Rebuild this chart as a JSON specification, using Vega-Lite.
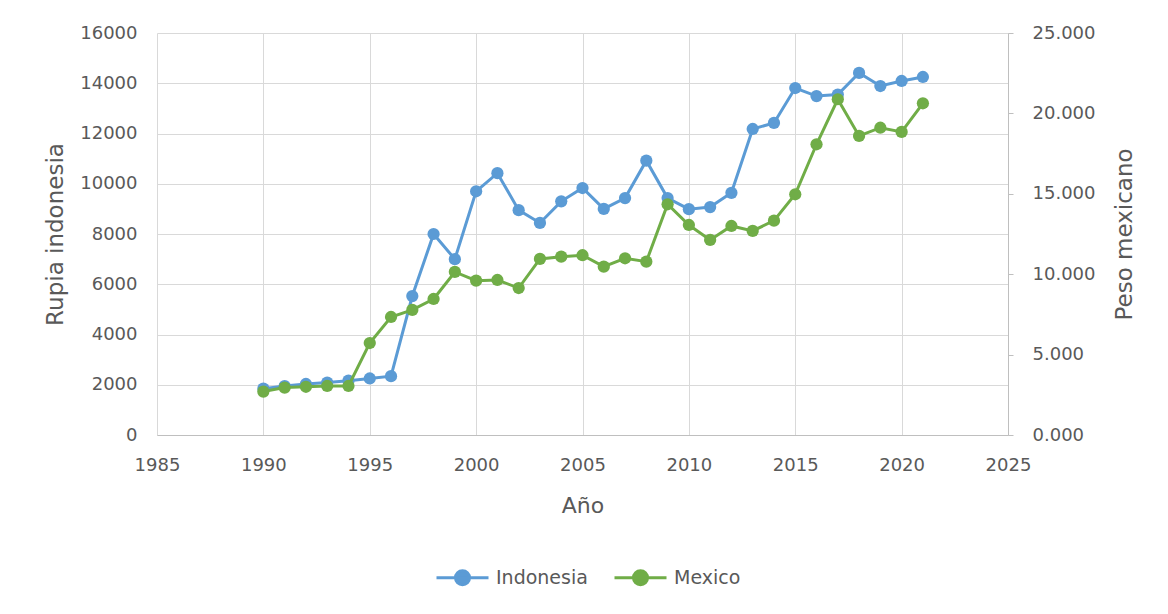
{
  "$schema": "https://vega.github.io/schema/vega-lite/v6.json",
  "width": 851,
  "height": 402,
  "autosize": {"type": "none"},
  "padding": {"left": 157, "top": 33, "right": 160, "bottom": 179},
  "background": "white",
  "config": {
    "font": "DejaVu Sans",
    "view": {"stroke": null},
    "axis": {
      "labelColor": "#595959",
      "titleColor": "#595959",
      "labelFontSize": 18,
      "titleFontSize": 23,
      "titleFontWeight": "normal",
      "labelFlush": false,
      "gridColor": "#D9D9D9",
      "gridWidth": 1,
      "domainColor": "#BFBFBF",
      "tickColor": "#BFBFBF"
    },
    "legend": {"labelColor": "#595959", "labelFontSize": 19}
  },
  "data": {
    "values": [
      {"year": 1990, "series": "Indonesia", "value": 1843},
      {"year": 1991, "series": "Indonesia", "value": 1950},
      {"year": 1992, "series": "Indonesia", "value": 2030},
      {"year": 1993, "series": "Indonesia", "value": 2087},
      {"year": 1994, "series": "Indonesia", "value": 2161},
      {"year": 1995, "series": "Indonesia", "value": 2249},
      {"year": 1996, "series": "Indonesia", "value": 2342},
      {"year": 1997, "series": "Indonesia", "value": 5530},
      {"year": 1998, "series": "Indonesia", "value": 8000},
      {"year": 1999, "series": "Indonesia", "value": 7000},
      {"year": 2000, "series": "Indonesia", "value": 9700},
      {"year": 2001, "series": "Indonesia", "value": 10420},
      {"year": 2002, "series": "Indonesia", "value": 8950},
      {"year": 2003, "series": "Indonesia", "value": 8440},
      {"year": 2004, "series": "Indonesia", "value": 9300},
      {"year": 2005, "series": "Indonesia", "value": 9830},
      {"year": 2006, "series": "Indonesia", "value": 9000},
      {"year": 2007, "series": "Indonesia", "value": 9430},
      {"year": 2008, "series": "Indonesia", "value": 10920},
      {"year": 2009, "series": "Indonesia", "value": 9430},
      {"year": 2010, "series": "Indonesia", "value": 8990},
      {"year": 2011, "series": "Indonesia", "value": 9070},
      {"year": 2012, "series": "Indonesia", "value": 9640},
      {"year": 2013, "series": "Indonesia", "value": 12180},
      {"year": 2014, "series": "Indonesia", "value": 12420},
      {"year": 2015, "series": "Indonesia", "value": 13810},
      {"year": 2016, "series": "Indonesia", "value": 13490},
      {"year": 2017, "series": "Indonesia", "value": 13550},
      {"year": 2018, "series": "Indonesia", "value": 14410},
      {"year": 2019, "series": "Indonesia", "value": 13890},
      {"year": 2020, "series": "Indonesia", "value": 14090},
      {"year": 2021, "series": "Indonesia", "value": 14250},
      {"year": 1990, "series": "Mexico", "value": 2.7},
      {"year": 1991, "series": "Mexico", "value": 2.95},
      {"year": 1992, "series": "Mexico", "value": 3.0},
      {"year": 1993, "series": "Mexico", "value": 3.05},
      {"year": 1994, "series": "Mexico", "value": 3.05},
      {"year": 1995, "series": "Mexico", "value": 5.72},
      {"year": 1996, "series": "Mexico", "value": 7.34},
      {"year": 1997, "series": "Mexico", "value": 7.78},
      {"year": 1998, "series": "Mexico", "value": 8.46},
      {"year": 1999, "series": "Mexico", "value": 10.14},
      {"year": 2000, "series": "Mexico", "value": 9.6},
      {"year": 2001, "series": "Mexico", "value": 9.64},
      {"year": 2002, "series": "Mexico", "value": 9.14},
      {"year": 2003, "series": "Mexico", "value": 10.95},
      {"year": 2004, "series": "Mexico", "value": 11.09},
      {"year": 2005, "series": "Mexico", "value": 11.18},
      {"year": 2006, "series": "Mexico", "value": 10.47},
      {"year": 2007, "series": "Mexico", "value": 10.99},
      {"year": 2008, "series": "Mexico", "value": 10.78},
      {"year": 2009, "series": "Mexico", "value": 14.35},
      {"year": 2010, "series": "Mexico", "value": 13.06},
      {"year": 2011, "series": "Mexico", "value": 12.13},
      {"year": 2012, "series": "Mexico", "value": 13.0},
      {"year": 2013, "series": "Mexico", "value": 12.69},
      {"year": 2014, "series": "Mexico", "value": 13.33},
      {"year": 2015, "series": "Mexico", "value": 14.97},
      {"year": 2016, "series": "Mexico", "value": 18.08},
      {"year": 2017, "series": "Mexico", "value": 20.88},
      {"year": 2018, "series": "Mexico", "value": 18.6},
      {"year": 2019, "series": "Mexico", "value": 19.11},
      {"year": 2020, "series": "Mexico", "value": 18.85},
      {"year": 2021, "series": "Mexico", "value": 20.63}
    ]
  },
  "encoding": {
    "x": {
      "field": "year",
      "type": "quantitative",
      "scale": {"domain": [1985, 2025], "nice": false, "zero": false},
      "axis": {
        "title": "Año",
        "values": [1985, 1990, 1995, 2000, 2005, 2010, 2015, 2020, 2025],
        "format": "d",
        "grid": true,
        "ticks": false,
        "tickSize": 0,
        "domain": true,
        "labelPadding": 21,
        "titlePadding": 21,
        "titleFontSize": 22
      }
    },
    "color": {
      "field": "series",
      "type": "nominal",
      "scale": {"domain": ["Indonesia", "Mexico"], "range": ["#5B9BD5", "#70AD47"]},
      "legend": {
        "title": null,
        "orient": "none",
        "direction": "horizontal",
        "legendX": 278,
        "legendY": 517,
        "symbolType": "M-1,0H1M-0.27,0A0.27,0.27,0,1,0,0.27,0A0.27,0.27,0,1,0,-0.27,0Z",
        "symbolSize": 2704,
        "symbolStrokeWidth": 3,
        "labelOffset": 6,
        "columnPadding": 20,
        "encode": {
          "symbols": {
            "update": {
              "fill": {"scale": "color", "field": "value"},
              "stroke": {"scale": "color", "field": "value"},
              "strokeWidth": {"value": 3},
              "opacity": {"value": 1}
            }
          }
        }
      }
    }
  },
  "layer": [
    {
      "transform": [{"filter": "datum.series === 'Indonesia'"}],
      "mark": {"type": "line", "strokeWidth": 3, "point": {"filled": true, "size": 150, "opacity": 1}},
      "encoding": {
        "y": {
          "field": "value",
          "type": "quantitative",
          "scale": {"domain": [0, 16000], "nice": false},
          "axis": {
            "title": "Rupia indonesia",
            "orient": "left",
            "values": [0, 2000, 4000, 6000, 8000, 10000, 12000, 14000, 16000],
            "format": "d",
            "grid": true,
            "domain": false,
            "ticks": false,
            "tickSize": 0,
            "labelPadding": 20,
            "titlePadding": 12
          }
        }
      }
    },
    {
      "transform": [{"filter": "datum.series === 'Mexico'"}],
      "mark": {"type": "line", "strokeWidth": 3, "point": {"filled": true, "size": 150, "opacity": 1}},
      "encoding": {
        "y": {
          "field": "value",
          "type": "quantitative",
          "scale": {"domain": [0, 25], "nice": false},
          "axis": {
            "title": "Peso mexicano",
            "orient": "right",
            "values": [0, 5, 10, 15, 20, 25],
            "format": ".3f",
            "grid": false,
            "domain": true,
            "ticks": true,
            "tickSize": 5,
            "labelPadding": 19,
            "titlePadding": 19,
            "titleAngle": 270,
            "titleBaseline": "top"
          }
        }
      }
    }
  ],
  "resolve": {"scale": {"y": "independent"}}
}
